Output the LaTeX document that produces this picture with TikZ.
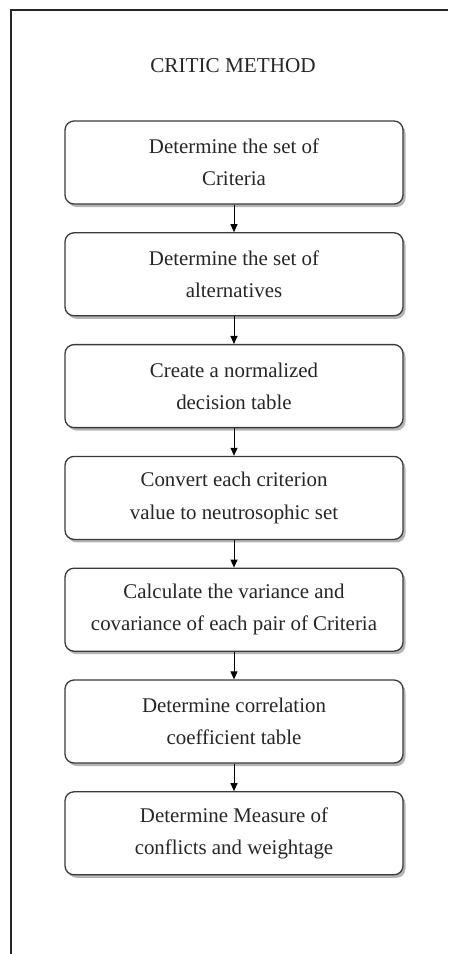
\documentclass[tikz,border=0pt]{standalone}
\usepackage{fontspec}
\setmainfont{Liberation Serif}
\usetikzlibrary{arrows.meta,shadows}
\definecolor{boxline}{HTML}{3A3A3A}
\definecolor{boxshadow}{HTML}{B4B4B4}
\tikzset{
    stepbox/.style={draw=boxline, line width=1.3pt, rounded corners=9pt, fill=white,
        minimum width=338pt, minimum height=83pt, align=center, text=black!85,
        font=\fontsize{20.9pt}{32.4pt}\selectfont,
        drop shadow={shadow xshift=2.5pt, shadow yshift=-3pt, fill=boxshadow, opacity=1}},
    flow/.style={-{Triangle[length=8pt,width=7pt]}, line width=1pt, black},
}
\begin{document}
\begin{tikzpicture}[x=1pt, y=-1pt]
        \useasboundingbox (0, 0) rectangle (448, 954);

        % frame
        \draw [line width=1.3pt, black!85] (448, 10) -- (11, 10) -- (11, 954);

        % title
        \node (title) at (233, 66) [font=\fontsize{21.2pt}{25pt}\selectfont, text=black!85] {CRITIC METHOD};

        % criteria
        \node[stepbox] (criteria) at (234, 162.5) {Determine the set of\\Criteria};

        % alternatives
        \node[stepbox] (alternatives) at (234, 274.3) {Determine the set of\\alternatives};
        \draw [flow] (criteria) -- (alternatives);

        % normalized table
        \node[stepbox] (normalized) at (234, 386.1) {Create a normalized\\decision table};
        \draw [flow] (alternatives) -- (normalized);

        % neutrosophic values
        \node[stepbox] (neutrosophic) at (234, 497.9) {Convert each criterion\\value to neutrosophic set};
        \draw [flow] (normalized) -- (neutrosophic);

        % variance and covariance
        \node[stepbox] (variance) at (234, 609.7) {Calculate the variance and\\covariance of each pair of Criteria};
        \draw [flow] (neutrosophic) -- (variance);

        % correlation
        \node[stepbox] (correlation) at (234, 721.5) {Determine correlation\\coefficient table};
        \draw [flow] (variance) -- (correlation);

        % conflicts and weights
        \node[stepbox] (weightage) at (234, 833.3) {Determine Measure of\\conflicts and weightage};
        \draw [flow] (correlation) -- (weightage);
\end{tikzpicture}
\end{document}
